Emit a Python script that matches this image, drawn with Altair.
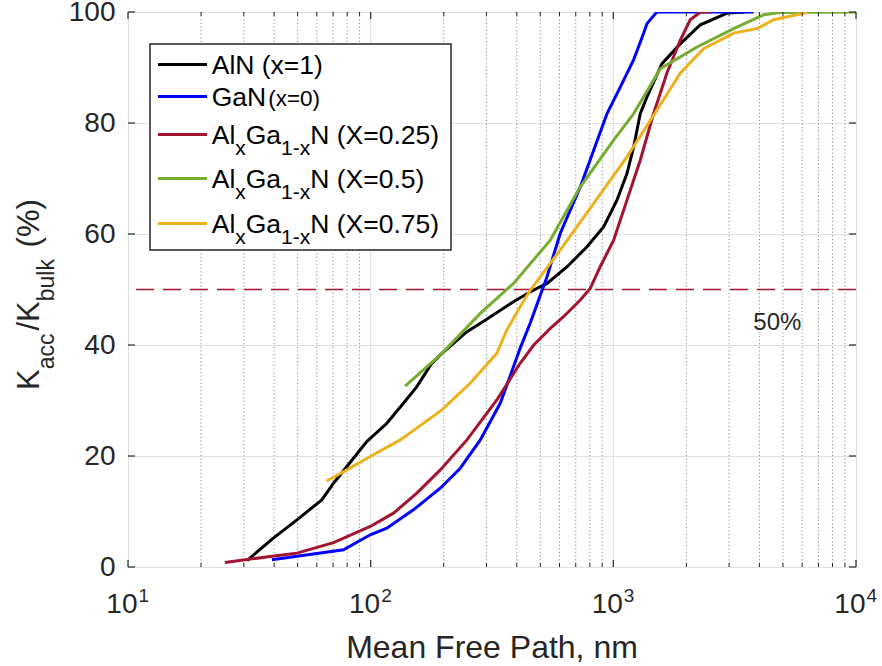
import altair as alt
import pandas as pd

# ---------------- data ----------------
aln_x = [31, 39.7, 49.7, 62.9, 70.3, 79.8, 96.4, 116.6, 136.5, 155, 178.6, 196.6, 249.3, 290, 388, 455, 533, 645, 779, 913, 1035, 1138, 1213, 1291, 1376, 1587, 1890, 2285, 2944, 3500]
aln_y = [1.2, 5.2, 8.5, 12.1, 15.1, 18.1, 22.6, 25.9, 29.5, 32.5, 36.7, 38.5, 42.4, 44.2, 47.8, 49.6, 51.1, 54.1, 57.7, 61.3, 66.1, 70.9, 75.7, 81.7, 84.7, 90.7, 94.3, 97.7, 99.8, 100]

gan_x = [39.2, 77.3, 99.6, 116.6, 150, 193.6, 234, 283, 342, 413, 455, 533, 604, 731, 830, 942, 1069, 1213, 1334, 1376, 1511, 3785]
gan_y = [1.3, 3.1, 5.8, 7.0, 10.3, 14.2, 17.8, 22.9, 29.5, 39.4, 44.0, 52.3, 60.1, 68.5, 75.1, 81.7, 86.5, 91.4, 96.2, 97.9, 100, 100]

x25_x = [25.1, 38.5, 49.7, 70.3, 99.6, 124.2, 155, 193.6, 249.3, 331, 413, 470, 550, 623, 731, 803, 883, 1003, 1138, 1291, 1465, 1663, 1890, 2075, 2285, 2512]
x25_y = [0.8, 1.9, 2.5, 4.4, 7.3, 9.7, 13.3, 17.5, 22.9, 30.1, 36.7, 40.0, 43.0, 45.1, 48.1, 50.2, 54.1, 58.9, 66.1, 73.3, 81.7, 89.0, 95.0, 98.6, 100, 100]

x50_x = [138.7, 196.6, 283, 388, 550, 731, 1003, 1213, 1563, 2213, 3133, 4168, 4885, 10000]
x50_y = [32.6, 38.5, 45.7, 51.1, 58.9, 68.5, 76.9, 81.7, 89.8, 93.7, 97.0, 99.5, 99.9, 100]

x75_x = [65.9, 79.8, 99.6, 132.4, 196.6, 257, 331, 364, 413, 455, 604, 830, 1138, 1511, 1890, 2355, 3133, 3910, 4580, 6280]
x75_y = [15.5, 17.5, 19.9, 22.9, 28.3, 33.1, 38.5, 42.7, 46.9, 49.9, 57.1, 65.5, 73.9, 82.3, 89.0, 93.4, 96.2, 97.0, 98.6, 99.9]

series_x = [aln_x, gan_x, x25_x, x50_x, x75_x]
series_y = [aln_y, gan_y, x25_y, x50_y, x75_y]
series_colors = ["#000000", "#0000FF", "#A2142F", "#77AC30", "#EDB120"]

major_ticks_x = [10, 100, 1000, 10000]
tick_exponents = ["1", "2", "3", "4"]
minor_ticks_x = [20, 30, 40, 50, 60, 70, 80, 90,
                 200, 300, 400, 500, 600, 700, 800, 900,
                 2000, 3000, 4000, 5000, 6000, 7000, 8000, 9000]
inner_grid_x = [100, 1000]
y_ticks = [0, 20, 40, 60, 80, 100]
threshold = [50]
annot_x = [3776]
annot_y = [42.7]
annot_text = ["50%"]

# ---------------- layout ----------------
W, H = 728, 555
FONT = "Liberation Sans"
INK = "#262626"
xscale = alt.Scale(type="log", domain=[10, 10000])
yscale = alt.Scale(domain=[0, 100])
yaxis = alt.Axis(
    values=y_ticks, labelFontSize=28, labelPadding=13, ticks=False, domain=False,
    grid=True, gridColor="#e0e0e0", gridWidth=1.2, title=None,
    labelColor=INK, labelFont=FONT)

AW = {' ': 278, '(': 333, ')': 333, '=': 584, '.': 278, '-': 333, '/': 278, '%': 889, ',': 278,
      'A': 667, 'G': 778, 'K': 667, 'N': 722, 'X': 667,
      'a': 556, 'b': 556, 'c': 500, 'k': 500, 'l': 222, 'u': 556, 'x': 500}
for d in "0123456789":
    AW[d] = 556


def tw(s, size):
    return sum(AW[c] for c in s) * size / 1000.0


def Y(field="y"):
    return alt.Y(f"{field}:Q", scale=yscale, axis=yaxis)


def X(field="x"):
    return alt.X(f"{field}:Q", scale=xscale, axis=None)


one = pd.DataFrame({"a": [0]})

# ---------------- grid ----------------
yaxis_layer = alt.Chart(pd.DataFrame({"y": y_ticks})).mark_point(opacity=0).encode(y=Y())

minor_grid = alt.Chart(pd.DataFrame({"x": minor_ticks_x})).mark_rule(
    color="#8a8a8a", strokeWidth=1, strokeDash=[1.2, 2.4]
).encode(x=X())

major_grid = alt.Chart(pd.DataFrame({"x": inner_grid_x})).mark_rule(
    color="#e0e0e0", strokeWidth=1.2
).encode(x=X())

thresh = alt.Chart(pd.DataFrame({"y": threshold})).mark_rule(
    color="#A2142F", strokeWidth=1.5, strokeDash=[18, 9]
).encode(y=Y())

# ---------------- data lines ----------------
line_layers = []
for xs, ys, col in zip(series_x, series_y, series_colors):
    df = pd.DataFrame({"x": xs, "y": ys})
    line_layers.append(
        alt.Chart(df).mark_line(color=col, strokeWidth=3, clip=True).encode(x=X(), y=Y())
    )

annot = alt.Chart(pd.DataFrame({"x": annot_x, "y": annot_y, "t": annot_text})).mark_text(
    align="left", baseline="alphabetic", fontSize=24, font=FONT, color=INK
).encode(x=X(), y=Y(), text="t:N")

# ---------------- ticks (inward) ----------------
bx_major = alt.Chart(pd.DataFrame({"x": major_ticks_x})).mark_rule(color=INK, strokeWidth=1.2).encode(
    x=X(), y=alt.value(H), y2=alt.value(H - 7))
tx_major = alt.Chart(pd.DataFrame({"x": major_ticks_x})).mark_rule(color=INK, strokeWidth=1.2).encode(
    x=X(), y=alt.value(0), y2=alt.value(7))
bx_minor = alt.Chart(pd.DataFrame({"x": minor_ticks_x})).mark_rule(color=INK, strokeWidth=1).encode(
    x=X(), y=alt.value(H), y2=alt.value(H - 4))
tx_minor = alt.Chart(pd.DataFrame({"x": minor_ticks_x})).mark_rule(color=INK, strokeWidth=1).encode(
    x=X(), y=alt.value(0), y2=alt.value(4))
ly_ticks = alt.Chart(pd.DataFrame({"y": y_ticks})).mark_rule(color=INK, strokeWidth=1.2).encode(
    y=Y(), x=alt.value(0), x2=alt.value(7))
ry_ticks = alt.Chart(pd.DataFrame({"y": y_ticks})).mark_rule(color=INK, strokeWidth=1.2).encode(
    y=Y(), x=alt.value(W - 7), x2=alt.value(W))

# ---------------- x tick labels 10^n ----------------
xlab_base = alt.Chart(pd.DataFrame({"x": major_ticks_x, "e": tick_exponents})).mark_text(
    align="right", baseline="alphabetic", fontSize=28, font=FONT, color=INK, dx=9.5
).encode(x=X(), y=alt.value(601), text=alt.value("10"))
xlab_exp = alt.Chart(pd.DataFrame({"x": major_ticks_x, "e": tick_exponents})).mark_text(
    align="left", baseline="alphabetic", fontSize=19, font=FONT, color=INK, dx=10.5
).encode(x=X(), y=alt.value(590), text="e:N")

xtitle = alt.Chart(one).mark_text(
    align="center", baseline="alphabetic", fontSize=32, font=FONT, color=INK
).encode(x=alt.value(W / 2), y=alt.value(646), text=alt.value("Mean Free Path, nm"))

# ---------------- y title with subscripts (rotated) ----------------
YM, YS = 31, 23
# (text, kind, gap before)
y_pieces = [("K", "m", 0), ("acc", "s", 0), ("/K", "m", 3), ("bulk", "s", 0), ("(%)", "m", tw(" ", 31) + 3)]
rows = []
cum = 0.0
for txt, kind, gap in y_pieces:
    size = YM if kind == "m" else YS
    cum += gap
    rows.append({"px": -89 if kind == "m" else -74, "py": 378 - cum, "t": txt, "s": size})
    cum += tw(txt, size)
ytitle = alt.Chart(pd.DataFrame(rows)).mark_text(
    align="left", baseline="alphabetic", font=FONT, color=INK, angle=270
).encode(
    x=alt.X("px:Q", scale=None, axis=None),
    y=alt.Y("py:Q", scale=None, axis=None),
    text="t:N",
    size=alt.Size("s:Q", scale=None, legend=None),
)

# ---------------- legend (manual, with subscripts) ----------------
LM, LS, LN = 26.5, 21, 22.5
legend_rows = [
    [("AlN (x=1)", "m")],
    [("GaN", "m"), ("(x=0)", "n")],
    [("Al", "m"), ("x", "s"), ("Ga", "m"), ("1-x", "s"), ("N (X=0.25)", "m")],
    [("Al", "m"), ("x", "s"), ("Ga", "m"), ("1-x", "s"), ("N (X=0.5)", "m")],
    [("Al", "m"), ("x", "s"), ("Ga", "m"), ("1-x", "s"), ("N (X=0.75)", "m")],
]
row_base = [61.5, 93.5, 131.5, 175.5, 220.5]
text_x0 = 83.7
leg_text = []
leg_lines = []
for r, pieces in enumerate(legend_rows):
    cx = text_x0
    for txt, kind in pieces:
        size = {"m": LM, "s": LS, "n": LN}[kind]
        if kind == "n":
            cx += 2
        by = row_base[r] + (11 if kind == "s" else 0)
        leg_text.append({"px": cx, "py": by, "t": txt, "s": size})
        cx += tw(txt, size)
    leg_lines.append({"ly": row_base[r] - 9, "c": series_colors[r]})

legend_box = alt.Chart(one).mark_rect(fill="white", stroke=INK, strokeWidth=1.5).encode(
    x=alt.value(22), x2=alt.value(323), y=alt.value(32), y2=alt.value(238))
legend_lines = alt.Chart(pd.DataFrame(leg_lines)).mark_rule(strokeWidth=3).encode(
    x=alt.value(30), x2=alt.value(79),
    y=alt.Y("ly:Q", scale=None, axis=None),
    color=alt.Color("c:N", scale=None, legend=None))
legend_text = alt.Chart(pd.DataFrame(leg_text)).mark_text(
    align="left", baseline="alphabetic", font=FONT, color="#000000"
).encode(
    x=alt.X("px:Q", scale=None, axis=None),
    y=alt.Y("py:Q", scale=None, axis=None),
    text="t:N",
    size=alt.Size("s:Q", scale=None, legend=None),
)

chart = alt.layer(
    yaxis_layer, minor_grid, major_grid, thresh, *line_layers, annot,
    bx_major, tx_major, bx_minor, tx_minor, ly_ticks, ry_ticks,
    legend_box, legend_lines, legend_text,
    xlab_base, xlab_exp, xtitle, ytitle,
).properties(
    width=W, height=H,
    autosize=alt.AutoSizeParams(type="none"),
    padding={"left": 128, "top": 12, "right": 26, "bottom": 99},
).configure_view(stroke=INK, strokeWidth=1.5).configure(font=FONT, background="white")

chart.save("out.html", embed_options={"renderer": "svg", "actions": False})
